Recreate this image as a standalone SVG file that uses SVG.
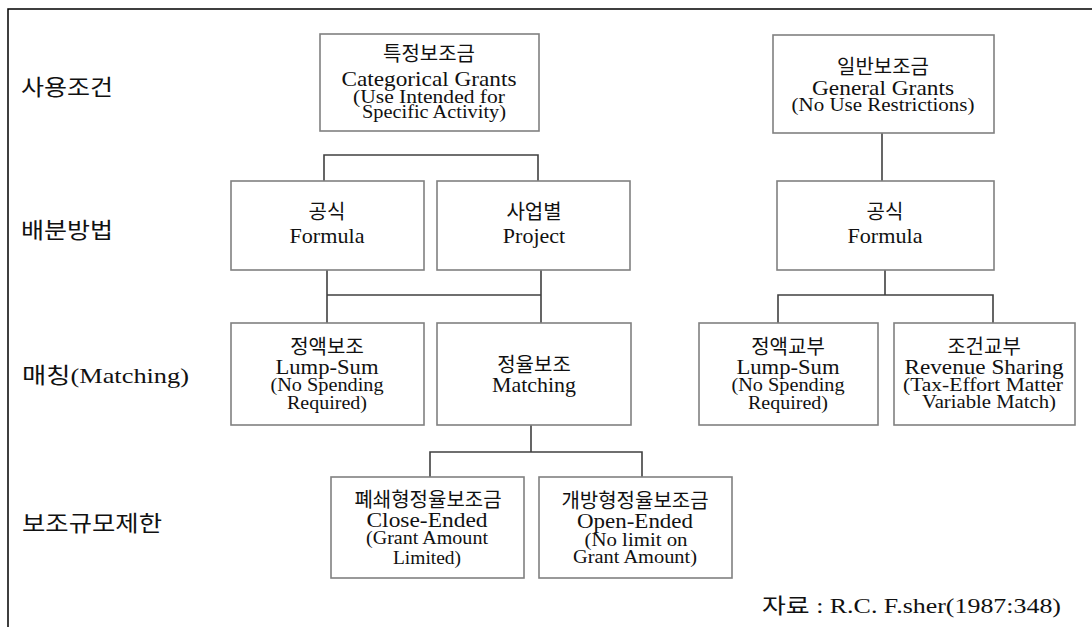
<svg xmlns="http://www.w3.org/2000/svg" width="1092" height="627" viewBox="0 0 1092 627">
<style>
text { font-family: "Liberation Serif", "Noto Sans CJK KR", serif; fill: #111; }
.c { text-anchor: middle; }
.ko { font-size: 20px; }
.en { font-size: 22px; }
.sub { font-size: 19px; }
.lbl { font-size: 22px; }
.box { fill: #fff; stroke: #808080; stroke-width: 1.6; }
.conn { fill: none; stroke: #404040; stroke-width: 1.6; }
</style>
<rect x="0" y="0" width="1092" height="627" fill="#fff"/>
<path d="M8,627 V9 H1092" fill="none" stroke="#000" stroke-width="1.5"/>

<g id="row-labels">
  <text class="lbl" x="21" y="95" textLength="92" lengthAdjust="spacingAndGlyphs">사용조건</text>
  <text class="lbl" x="21" y="238" textLength="92" lengthAdjust="spacingAndGlyphs">배분방법</text>
  <text class="lbl" x="22" y="383" textLength="167" lengthAdjust="spacingAndGlyphs">매칭(Matching)</text>
  <text class="lbl" x="22" y="531" textLength="140" lengthAdjust="spacingAndGlyphs">보조규모제한</text>
</g>

<g id="connectors">
  <path class="conn" d="M324,181 V155 H538 V181"/>
  <path class="conn" d="M882,133 V181"/>
  <path class="conn" d="M327,270 V323 M541,270 V323 M327,295 H541"/>
  <path class="conn" d="M885,270 V295 M778,323 V295 H993 V323"/>
  <path class="conn" d="M531,425 V452 M430,477 V452 H642 V477"/>
</g>

<g id="categorical">
  <rect class="box" x="320" y="34" width="219" height="97"/>
  <text class="ko c" x="429" y="61">특정보조금</text>
  <text class="en c" x="429" y="86" textLength="175" lengthAdjust="spacingAndGlyphs">Categorical Grants</text>
  <text class="sub c" x="429" y="103" textLength="152" lengthAdjust="spacingAndGlyphs">(Use Intended for</text>
  <text class="sub c" x="434" y="118" textLength="144" lengthAdjust="spacingAndGlyphs">Specific Activity)</text>
</g>

<g id="general">
  <rect class="box" x="773" y="35" width="221" height="98"/>
  <text class="ko c" x="883" y="74">일반보조금</text>
  <text class="en c" x="883" y="95" textLength="142" lengthAdjust="spacingAndGlyphs">General Grants</text>
  <text class="sub c" x="883" y="111" textLength="183" lengthAdjust="spacingAndGlyphs">(No Use Restrictions)</text>
</g>

<g id="formula-left">
  <rect class="box" x="231" y="181" width="193" height="89"/>
  <text class="ko c" x="327" y="219">공식</text>
  <text class="en c" x="327" y="243" textLength="75" lengthAdjust="spacingAndGlyphs">Formula</text>
</g>

<g id="project">
  <rect class="box" x="437" y="181" width="193" height="89"/>
  <text class="ko c" x="534" y="219">사업별</text>
  <text class="en c" x="534" y="243">Project</text>
</g>

<g id="formula-right">
  <rect class="box" x="777" y="181" width="217" height="89"/>
  <text class="ko c" x="885" y="219">공식</text>
  <text class="en c" x="885" y="243" textLength="75" lengthAdjust="spacingAndGlyphs">Formula</text>
</g>

<g id="lumpsum-left">
  <rect class="box" x="231" y="323" width="193" height="102"/>
  <text class="ko c" x="327" y="354">정액보조</text>
  <text class="en c" x="327" y="374" textLength="103" lengthAdjust="spacingAndGlyphs">Lump-Sum</text>
  <text class="sub c" x="327" y="391" textLength="113" lengthAdjust="spacingAndGlyphs">(No Spending</text>
  <text class="sub c" x="327" y="409" textLength="80" lengthAdjust="spacingAndGlyphs">Required)</text>
</g>

<g id="matching">
  <rect class="box" x="437" y="323" width="194" height="102"/>
  <text class="ko c" x="534" y="372">정율보조</text>
  <text class="en c" x="534" y="392" textLength="84" lengthAdjust="spacingAndGlyphs">Matching</text>
</g>

<g id="lumpsum-right">
  <rect class="box" x="699" y="323" width="179" height="102"/>
  <text class="ko c" x="788" y="354">정액교부</text>
  <text class="en c" x="788" y="374" textLength="103" lengthAdjust="spacingAndGlyphs">Lump-Sum</text>
  <text class="sub c" x="788" y="391" textLength="113" lengthAdjust="spacingAndGlyphs">(No Spending</text>
  <text class="sub c" x="788" y="409" textLength="80" lengthAdjust="spacingAndGlyphs">Required)</text>
</g>

<g id="revenue-sharing">
  <rect class="box" x="894" y="323" width="181" height="102"/>
  <text class="ko c" x="984" y="354">조건교부</text>
  <text class="en c" x="984" y="374" textLength="159" lengthAdjust="spacingAndGlyphs">Revenue Sharing</text>
  <text class="sub c" x="983" y="391" textLength="160" lengthAdjust="spacingAndGlyphs">(Tax-Effort Matter</text>
  <text class="sub c" x="989" y="408" textLength="134" lengthAdjust="spacingAndGlyphs">Variable Match)</text>
</g>

<g id="close-ended">
  <rect class="box" x="331" y="477" width="193" height="101"/>
  <text class="ko c" x="428" y="507">폐쇄형정율보조금</text>
  <text class="en c" x="427" y="527" textLength="121" lengthAdjust="spacingAndGlyphs">Close-Ended</text>
  <text class="sub c" x="427" y="544" textLength="122" lengthAdjust="spacingAndGlyphs">(Grant Amount</text>
  <text class="sub c" x="427" y="564" textLength="68" lengthAdjust="spacingAndGlyphs">Limited)</text>
</g>

<g id="open-ended">
  <rect class="box" x="539" y="477" width="193" height="101"/>
  <text class="ko c" x="635" y="508">개방형정율보조금</text>
  <text class="en c" x="635" y="528" textLength="116" lengthAdjust="spacingAndGlyphs">Open-Ended</text>
  <text class="sub c" x="636" y="546" textLength="103" lengthAdjust="spacingAndGlyphs">(No limit on</text>
  <text class="sub c" x="635" y="563" textLength="124" lengthAdjust="spacingAndGlyphs">Grant Amount)</text>
</g>

<g id="source">
  <text class="sub" x="762" y="613" font-size="21" textLength="299" lengthAdjust="spacingAndGlyphs" style="font-size:21px">자료 : R.C. F.sher(1987:348)</text>
</g>
</svg>
